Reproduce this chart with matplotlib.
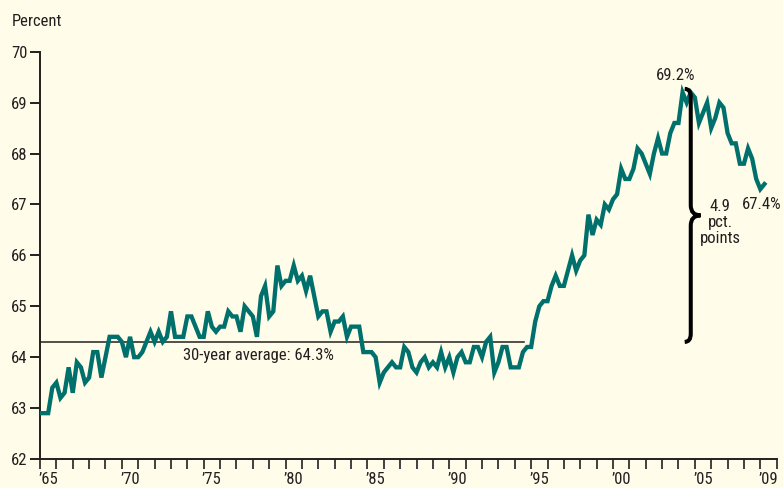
import matplotlib
matplotlib.use("Agg")
import matplotlib.pyplot as plt
from matplotlib.path import Path
from matplotlib.patches import PathPatch
import numpy as np

plt.rcParams['font.family'] = ['Roboto Condensed', 'DejaVu Sans']

# Quarterly homeownership rate, 1965Q1 - 2009Q2 (percent)
rate = [
    62.9, 62.9, 62.9, 63.4,   # 1965
    63.5, 63.2, 63.3, 63.8,   # 1966
    63.3, 63.9, 63.8, 63.5,   # 1967
    63.6, 64.1, 64.1, 63.6,   # 1968
    64.0, 64.4, 64.4, 64.4,   # 1969
    64.3, 64.0, 64.4, 64.0,   # 1970
    64.0, 64.1, 64.3, 64.5,   # 1971
    64.3, 64.5, 64.3, 64.4,   # 1972
    64.9, 64.4, 64.4, 64.4,   # 1973
    64.8, 64.8, 64.6, 64.4,   # 1974
    64.4, 64.9, 64.6, 64.5,   # 1975
    64.6, 64.6, 64.9, 64.8,   # 1976
    64.8, 64.5, 65.0, 64.9,   # 1977
    64.8, 64.4, 65.2, 65.4,   # 1978
    64.8, 64.9, 65.8, 65.4,   # 1979
    65.5, 65.5, 65.8, 65.5,   # 1980
    65.6, 65.3, 65.6, 65.2,   # 1981
    64.8, 64.9, 64.9, 64.5,   # 1982
    64.7, 64.7, 64.8, 64.4,   # 1983
    64.6, 64.6, 64.6, 64.1,   # 1984
    64.1, 64.1, 64.0, 63.5,   # 1985
    63.7, 63.8, 63.9, 63.8,   # 1986
    63.8, 64.2, 64.1, 63.8,   # 1987
    63.7, 63.9, 64.0, 63.8,   # 1988
    63.9, 63.8, 64.1, 63.8,   # 1989
    64.0, 63.7, 64.0, 64.1,   # 1990
    63.9, 63.9, 64.2, 64.2,   # 1991
    64.0, 64.3, 64.4, 63.7,   # 1992
    63.9, 64.2, 64.2, 63.8,   # 1993
    63.8, 63.8, 64.1, 64.2,   # 1994
    64.2, 64.7, 65.0, 65.1,   # 1995
    65.1, 65.4, 65.6, 65.4,   # 1996
    65.4, 65.7, 66.0, 65.7,   # 1997
    65.9, 66.0, 66.8, 66.4,   # 1998
    66.7, 66.6, 67.0, 66.9,   # 1999
    67.1, 67.2, 67.7, 67.5,   # 2000
    67.5, 67.7, 68.1, 68.0,   # 2001
    67.8, 67.6, 68.0, 68.3,   # 2002
    68.0, 68.0, 68.4, 68.6,   # 2003
    68.6, 69.2, 69.0, 69.2,   # 2004
    69.1, 68.6, 68.8, 69.0,   # 2005
    68.5, 68.7, 69.0, 68.9,   # 2006
    68.4, 68.2, 68.2, 67.8,   # 2007
    67.8, 68.1, 67.9, 67.5,   # 2008
    67.3, 67.4,               # 2009
]
start_year = 1965
avg_value = 64.3
avg_end_year = 1994.55
peak_value = 69.2
last_value = 67.4
diff_points = 4.9

label_years = [1965, 1970, 1975, 1980, 1985, 1990, 1995, 2000, 2005, 2009]
label_texts = ["\u201965", "\u201970", "\u201975", "\u201980", "\u201985",
               "\u201990", "\u201995", "\u201900", "\u201905", "\u201909"]
y_ticks = [62, 63, 64, 65, 66, 67, 68, 69, 70]

bg = '#FFFDE9'
teal = '#00706C'
ink = '#231F20'
fs = 12

x = start_year + np.arange(len(rate)) * 0.25

fig = plt.figure(figsize=(7.83, 4.88), dpi=100, facecolor=bg)
ax = fig.add_axes([40/783, 1 - 459/488, 736.7/783, (459 - 51.7)/488])
ax.set_facecolor(bg)

ax.plot([start_year, avg_end_year], [avg_value, avg_value], color=ink, lw=1.1, zorder=2)
ax.plot(x, rate, color=teal, lw=3.1, solid_joinstyle='miter', zorder=3)

ax.set_xlim(1965, 2010)
ax.set_ylim(62, 70)

for s in ['top', 'right']:
    ax.spines[s].set_visible(False)
for s in ['left', 'bottom']:
    ax.spines[s].set_linewidth(1.4)
    ax.spines[s].set_color(ink)

ax.set_yticks(y_ticks)
ax.set_yticklabels([str(v) for v in y_ticks])
ax.tick_params(axis='y', direction='out', length=7, width=1.4, color=ink,
               labelsize=fs, labelcolor=ink, pad=2)

ax.set_xticks(np.arange(1965, 2011, 1))
ax.set_xticklabels([])
ax.tick_params(axis='x', which='major', direction='out', length=7, width=1.2, color=ink)
ax.set_xticks([yv + 0.5 for yv in label_years], minor=True)
ax.set_xticklabels(label_texts, minor=True)
ax.tick_params(axis='x', which='minor', length=0, labelsize=fs, labelcolor=ink, pad=9)

fig.text(12/783, 1 - 21/488, "Percent", fontsize=fs, color=ink, ha='left', va='center')

ax.text(1973.74, avg_value - 0.27, "30-year average: %.1f%%" % avg_value,
        fontsize=fs, color=ink, ha='left', va='center')

ax.text(2003.85, peak_value + 0.34, "%.1f%%" % peak_value, fontsize=fs,
        color=ink, ha='center', va='center')
ax.text(2009.1, last_value - 0.41, "%.1f%%" % last_value, fontsize=fs,
        color=ink, ha='center', va='center')
ax.text(2006.55, 66.64, "%.1f\npct.\npoints" % diff_points, fontsize=fs,
        color=ink, ha='center', va='center', linespacing=1.08)

# curly brace spanning average to peak
xb = 2004.75
top = peak_value + 0.07
bot = avg_value
mid = (top + bot) / 2
hw, hh = 0.37, 0.16
tw, th = 0.6, 0.2
verts = [
    (xb - hw, top), (xb, top), (xb, top - hh),
    (xb, mid + th),
    (xb, mid), (xb + tw, mid),
    (xb, mid), (xb, mid - th),
    (xb, bot + hh),
    (xb, bot), (xb - hw, bot),
]
codes = [Path.MOVETO, Path.CURVE3, Path.CURVE3,
         Path.LINETO,
         Path.CURVE3, Path.CURVE3,
         Path.CURVE3, Path.CURVE3,
         Path.LINETO,
         Path.CURVE3, Path.CURVE3]
ax.add_patch(PathPatch(Path(verts, codes), facecolor='none', edgecolor='black',
                       lw=2.9, capstyle='butt', zorder=4))

fig.savefig("out.png", dpi=100, facecolor=bg)
